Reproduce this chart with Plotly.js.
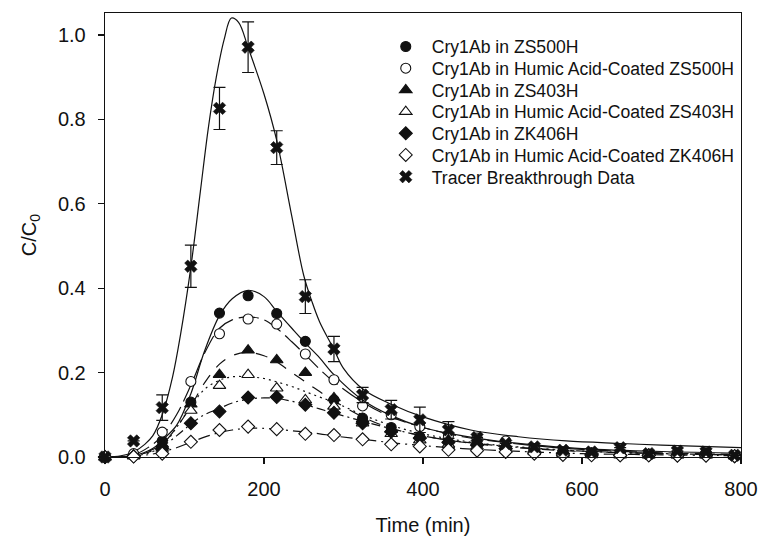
<!DOCTYPE html>
<html>
<head>
<meta charset="utf-8">
<script src="https://cdn.plot.ly/plotly-3.0.1.min.js"></script>
<style>html,body{margin:0;padding:0;background:#fff;}#chart{width:770px;height:540px;}</style>
</head>
<body>
<div id="chart"></div>
<script>
// Observation times (min)
const obsTime = [0,36,72,108,144,180,216,252,288,324,360,396,432,468,504,540,576,612,648,684,720,756,792];

// Measured C/C0
const zs500 = [0,0.004,0.038,0.13,0.341,0.382,0.34,0.274,0.135,0.092,0.07,0.048,0.035,0.03,0.022,0.02,0.012,0.008,0.006,0.005,0.005,0.01,0.004];
const haZs500 = [0,0.008,0.059,0.179,0.292,0.327,0.315,0.244,0.183,0.121,0.1,0.072,0.05,0.045,0.038,0.02,0.012,0.01,0.008,0.006,0.01,0.008,0.004];
const zs403 = [0,0.003,0.03,0.125,0.195,0.253,0.23,0.2,0.14,0.09,0.065,0.05,0.04,0.035,0.025,0.015,0.01,0.008,0.006,0.005,0.005,0.005,0.003];
const haZs403 = [0,0.002,0.02,0.11,0.169,0.195,0.163,0.135,0.12,0.08,0.055,0.04,0.03,0.025,0.018,0.012,0.008,0.005,0.004,0.004,0.004,0.004,0.002];
const zk406 = [0,0.002,0.02,0.08,0.108,0.141,0.142,0.124,0.105,0.08,0.06,0.045,0.035,0.028,0.02,0.012,0.008,0.006,0.004,0.004,0.004,0.004,0.002];
const haZk406 = [0,0.001,0.008,0.036,0.064,0.072,0.066,0.055,0.052,0.042,0.03,0.025,0.017,0.015,0.012,0.008,0.005,0.004,0.004,0.004,0.003,0.003,0.002];
const tracer = [0,0.038,0.117,0.452,0.826,0.971,0.733,0.38,0.256,0.147,0.112,0.088,0.064,0.046,0.032,0.024,0.016,0.012,0.022,0.008,0.014,0.012,0.004];
const tracerErr = [0,0,0.03,0.05,0.05,0.06,0.04,0.04,0.03,0.018,0.022,0.03,0.02,0,0,0,0,0,0,0,0,0,0];

// Fitted curves
const fitTime = [0,36,60,72,90,108,125,144,160,180,200,216,235,252,270,288,324,360,400,450,500,550,600,700,800];
const zs500Fit = [0,0.003,0.02,0.04,0.075,0.15,0.25,0.335,0.375,0.395,0.38,0.345,0.305,0.27,0.235,0.195,0.135,0.098,0.07,0.05,0.036,0.027,0.02,0.013,0.009];
const haZs500Fit = [0,0.005,0.03,0.05,0.1,0.17,0.245,0.305,0.325,0.332,0.325,0.305,0.273,0.242,0.208,0.178,0.13,0.095,0.07,0.048,0.035,0.025,0.018,0.01,0.006];
const zs403Fit = [0,0.003,0.018,0.03,0.07,0.12,0.175,0.22,0.24,0.248,0.24,0.225,0.2,0.178,0.155,0.133,0.095,0.068,0.05,0.035,0.025,0.018,0.013,0.008,0.005];
const haZs403Fit = [0,0.002,0.013,0.025,0.07,0.12,0.16,0.182,0.19,0.19,0.186,0.178,0.167,0.155,0.142,0.13,0.1,0.075,0.055,0.038,0.027,0.02,0.014,0.008,0.005];
const zk406Fit = [0,0.003,0.015,0.025,0.05,0.078,0.1,0.115,0.128,0.137,0.14,0.139,0.132,0.124,0.114,0.104,0.085,0.067,0.05,0.036,0.026,0.019,0.014,0.008,0.005];
const haZk406Fit = [0,0.002,0.007,0.012,0.022,0.035,0.047,0.058,0.064,0.068,0.068,0.066,0.062,0.059,0.055,0.05,0.042,0.034,0.027,0.02,0.015,0.011,0.008,0.005,0.003];
const tracerFitTime = [0,20,36,50,60,72,85,95,108,120,130,140,150,159,168,180,200,216,235,250,260,270,288,300,325,360,400,460,520,580,650,700,800];
const tracerFit = [0,0.003,0.012,0.03,0.05,0.1,0.19,0.29,0.45,0.63,0.78,0.9,0.99,1.04,1.03,0.97,0.86,0.75,0.57,0.43,0.37,0.32,0.255,0.21,0.16,0.125,0.095,0.064,0.048,0.038,0.032,0.028,0.022];

const seriesNames = [
  "Cry1Ab in ZS500H",
  "Cry1Ab in Humic Acid-Coated ZS500H",
  "Cry1Ab in ZS403H",
  "Cry1Ab in Humic Acid-Coated ZS403H",
  "Cry1Ab in ZK406H",
  "Cry1Ab in Humic Acid-Coated ZK406H",
  "Tracer Breakthrough Data"
];

const ink = "#111";
const fits = [
  {y: zs500Fit, dash: "solid"},
  {y: haZs500Fit, dash: "20px,6px"},
  {y: zs403Fit, dash: "12px,10px"},
  {y: haZs403Fit, dash: "2px,4px"},
  {y: zk406Fit, dash: "9px,4px,2px,4px"},
  {y: haZk406Fit, dash: "12px,5px,2px,5px"}
];
const traces = [];
fits.forEach(f => traces.push({
  x: fitTime, y: f.y, mode: "lines", showlegend: false, hoverinfo: "skip",
  line: {color: ink, width: 1.2, dash: f.dash, shape: "spline", smoothing: 1}
}));
traces.push({
  x: tracerFitTime, y: tracerFit, mode: "lines", showlegend: false, hoverinfo: "skip",
  line: {color: ink, width: 1.2, shape: "spline", smoothing: 1}
});

const obs = [
  {y: zs500, symbol: "circle", fill: ink, size: 10},
  {y: haZs500, symbol: "circle", fill: "#fff", size: 10},
  {y: zs403, symbol: "triangle-up", fill: ink, size: 11},
  {y: haZs403, symbol: "triangle-up", fill: "#fff", size: 11},
  {y: zk406, symbol: "diamond", fill: ink, size: 10},
  {y: haZk406, symbol: "diamond", fill: "#fff", size: 10}
];
obs.forEach((o, i) => traces.push({
  x: obsTime, y: o.y, mode: "markers", name: seriesNames[i], cliponaxis: false,
  marker: {symbol: o.symbol, size: o.size, color: o.fill, line: {color: ink, width: 1.1}}
}));
traces.push({
  x: obsTime, y: tracer, mode: "markers", name: seriesNames[6], cliponaxis: false,
  marker: {symbol: "x", size: 11, color: ink, line: {color: ink, width: 0.6}},
  error_y: {type: "data", array: tracerErr, visible: true, color: ink, thickness: 1.2, width: 6}
});

const fontFam = "'Liberation Sans', Arial, sans-serif";
const layout = {
  width: 770, height: 540,
  margin: {l: 104.5, r: 29, t: 13, b: 83},
  paper_bgcolor: "#fff", plot_bgcolor: "#fff",
  font: {family: fontFam, color: ink, size: 20},
  showlegend: true,
  legend: {
    x: 0.432, y: 0.965, xanchor: "left", yanchor: "top",
    font: {family: fontFam, size: 17.6, color: ink},
    bgcolor: "rgba(0,0,0,0)", borderwidth: 0, itemwidth: 42,
    tracegroupgap: 0
  },
  xaxis: {
    range: [0, 800], tickvals: [0,200,400,600,800], ticks: "outside", ticklen: 6, tickwidth: 1.2, tickcolor: ink,
    showline: true, linecolor: ink, linewidth: 1.3, mirror: true, showgrid: false, zeroline: false,
    tickfont: {size: 20}, ticklabelstandoff: 8,
    title: {text: "Time (min)", font: {size: 20}, standoff: 18}
  },
  yaxis: {
    range: [0, 1.052], tickvals: [0,0.2,0.4,0.6,0.8,1.0], tickformat: ".1f", ticks: "outside", ticklen: 6, tickwidth: 1.2, tickcolor: ink,
    showline: true, linecolor: ink, linewidth: 1.3, mirror: true, showgrid: false, zeroline: false,
    tickfont: {size: 20}, ticklabelstandoff: 8,
    title: {text: "C/C<sub>0</sub>", font: {size: 20}, standoff: 16}
  }
};
Plotly.newPlot("chart", traces, layout, {displayModeBar: false, staticPlot: true}).then(gd => {
  // tighten legend row spacing to match the reference (~21.7px per row)
  const items = gd.querySelectorAll(".legend .traces");
  let y0 = null;
  items.forEach((el, i) => {
    const m = /translate\(\s*([-\d.]+)[ ,]+([-\d.]+)\s*\)/.exec(el.getAttribute("transform") || "");
    if (!m) return;
    const x = parseFloat(m[1]), y = parseFloat(m[2]);
    if (y0 === null) y0 = y;
    el.setAttribute("transform", "translate(" + x + "," + (y0 + i * 21.7) + ")");
  });
});
</script>
</body>
</html>
